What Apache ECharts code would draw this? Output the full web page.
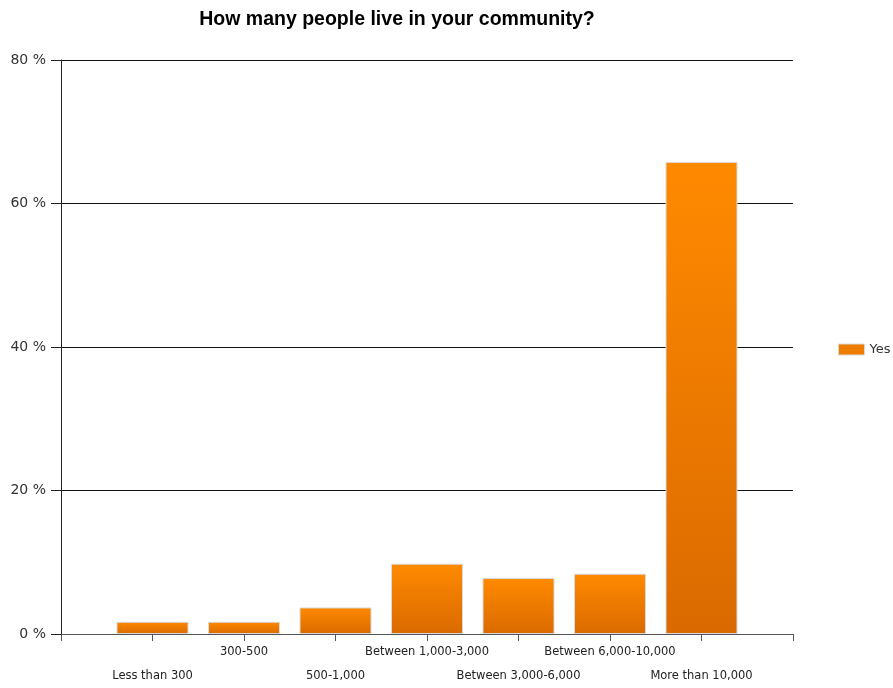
<!DOCTYPE html>
<html>
<head>
<meta charset="utf-8">
<style>
  html, body { margin: 0; padding: 0; background: #fff; }
  #chart { width: 893px; height: 688px; }
</style>
<script src="https://cdn.jsdelivr.net/npm/echarts@6/dist/echarts.min.js"></script>
</head>
<body>
<div id="chart"></div>
<script>
// Community size answers (share of respondents, %)
const categories = ['Less than 300', '300-500', '500-1,000', 'Between 1,000-3,000',
                    'Between 3,000-6,000', 'Between 6,000-10,000', 'More than 10,000'];
const yesValues = [1.7, 1.7, 3.7, 9.8, 7.8, 8.4, 65.8];
const yTicks = [0, 20, 40, 60, 80];

// Pad the category axis with an empty slot on each side so bars sit on the ticks
const axisCats = [''].concat(categories, ['']);
const axisData = [null].concat(yesValues, [null]);

const chart = echarts.init(document.getElementById('chart'));
const labelFont = 'DejaVu Sans, Verdana, sans-serif';

chart.setOption({
  animation: false,
  backgroundColor: '#ffffff',
  title: {
    text: 'How many people live in your community?',
    left: 392,
    textAlign: 'center',
    top: 5,
    textStyle: { fontFamily: 'Liberation Sans, Arial, sans-serif', fontSize: 19.5, fontWeight: 'bold', color: '#000' }
  },
  legend: {
    data: ['Yes'],
    left: 838,
    top: 343,
    padding: 0,
    itemWidth: 26,
    itemHeight: 11,
    itemGap: 6,
    icon: 'rect',
    itemStyle: { color: '#EE7D00', borderColor: '#d8d8d8', borderWidth: 1 },
    textStyle: { fontFamily: labelFont, fontSize: 13, color: '#333' }
  },
  grid: { left: 61, right: 100, top: 60, bottom: 50, containLabel: false },
  xAxis: {
    type: 'category',
    data: axisCats,
    boundaryGap: false,
    axisLine: { lineStyle: { color: '#555', width: 1 } },
    axisTick: { show: true, length: 7, inside: false, lineStyle: { color: '#555' } },
    axisLabel: {
      interval: 0,
      hideOverlap: false,
      margin: 6,
      fontFamily: labelFont,
      fontSize: 11.5,
      lineHeight: 24,
      color: '#222',
      formatter: function (v, i) { return i % 2 === 1 ? '\n' + v : v; }
    },
    splitLine: { show: false }
  },
  yAxis: {
    type: 'value',
    min: yTicks[0],
    max: yTicks[yTicks.length - 1],
    interval: 20,
    axisLine: { show: true, lineStyle: { color: '#222', width: 1 } },
    axisTick: { show: true, length: 10, lineStyle: { color: '#222' } },
    axisLabel: {
      margin: 15,
      fontFamily: labelFont,
      fontSize: 14,
      color: '#333',
      formatter: function (v) { return v + ' %'; }
    },
    splitLine: { show: true, lineStyle: { color: '#111', width: 1 } }
  },
  series: [{
    name: 'Yes',
    type: 'bar',
    data: axisData,
    barWidth: 72,
    itemStyle: {
      color: new echarts.graphic.LinearGradient(0, 0, 0, 1, [
        { offset: 0, color: '#FF8A00' },
        { offset: 1, color: '#DA6A00' }
      ]),
      borderColor: '#d9d9d9',
      borderWidth: 1
    }
  }]
});
</script>
</body>
</html>
